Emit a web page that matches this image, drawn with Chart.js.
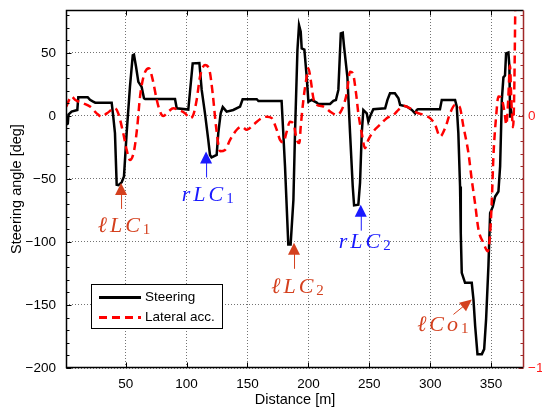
<!DOCTYPE html>
<html>
<head>
<meta charset="utf-8">
<script src="https://cdn.jsdelivr.net/npm/chart.js@4.4.0/dist/chart.umd.min.js"></script>
<style>html,body{margin:0;background:#fff}</style>
</head>
<body>
<canvas id="c" width="542" height="414"></canvas>
<script>
// steering angle [deg] vs distance [m]
const steerDist = [1,2.5,3,5.6,10.3,11.1,18.8,20.7,23.3,25,38.5,39.8,41.2,42.6,44,46.7,48.6,50.8,53.5,55.8,56.8,58.5,60.4,63.1,65,66,90.5,91.9,101.4,105,110.5,112.4,115.1,117.8,119.2,120.5,124.7,126,128,129.7,132.9,138.3,143.9,146,157.6,159,178,180.8,183.5,185.4,187.7,189,191,192.3,193.7,194.5,196.7,198.6,200,202.7,206.8,208,217.8,220.5,222.6,224.6,226.6,228.2,229.3,232,234.2,236.4,237.5,241,242.4,243.8,245.1,247.9,249.2,251.2,253.3,263,264.9,267,271,273.9,275.3,280.8,284.9,287.6,289,290,308,309.5,320.4,321.8,323.1,324.5,325.1,325.9,328.6,334.1,335.5,336.9,338.8,342.4,344.3,345.9,347.8,349.2,351.4,353.3,356,357.4,358.8,360.1,361.4,362.3,364.2,365,365.6,366.2,367];
const steerDeg = [-7,-6,1,3.4,4.7,14.8,14.8,12.7,11.3,10.5,10.5,-0.5,-13.7,-54.6,-55,-52.7,-48,-13.5,23,48,48.5,39,27,23,14,13.4,13.4,6,5,41.7,42,20.6,2,-19,-31,-33,-31,-13.7,2,7,3.4,4.7,7.4,13.2,13.2,11.8,11.8,-40,-102,-102,-66.5,-13.7,52,72,66.7,53.5,52.6,31,11.3,12.7,10.5,9.5,9.5,12,12.6,20.6,65.4,66,54.8,31,-13.7,-56,-71,-70.4,-53,-13.7,4.7,2,-4.5,1,5.3,6,12.7,18,18,14,8.7,7.4,4.7,2,4.7,5.3,5.3,12.7,12.7,7.4,-13.7,-56,-93,-124.5,-132.4,-132.4,-145.6,-166.7,-189,-189,-185,-161,-119,-77,-72,-64,-60,-40,12.7,30.6,32,49.6,50.3,39,-0.5,4.7,1];

// lateral acceleration (right axis) vs distance [m]
const accDist = [1.2,5.6,8.4,15.2,20.7,26.2,30.3,34.5,41.2,43.9,48,50.8,53.5,56.8,59.5,61.8,65,69.1,72.2,75.5,78.2,80.9,85,89.1,93.2,98.7,102.8,105.5,108.3,111,115.1,118.7,121.4,124.2,127.5,131.6,135.7,141.2,145.3,149.4,154.8,161.7,166,169.9,174,176.7,179.4,182.2,184.9,187.7,190.4,192.6,193.7,195.9,198.6,200,201.9,204.1,206.8,212.3,217.8,223.3,227.4,231.5,234.2,236.4,239.1,241,243.8,246.5,249.2,253.3,258.8,264.3,269.8,273.9,278,283.5,289,294.4,299.9,304,308.1,312.2,316.3,320.4,324,327.3,331.4,334.1,336.9,339.6,343.7,347.3,349.2,350.6,351.9,354.1,356,358.5,361,362.5,364,365.5,366.5,368,369,370];
const accVal = [0.037,0.077,0.064,0.05,0.037,0.01,-0.003,0.01,0.03,0.01,-0.069,-0.135,-0.175,-0.14,-0.043,0.077,0.162,0.189,0.143,0.064,0.017,0,0.017,0.03,0.024,0.01,-0.009,0.004,0.064,0.155,0.202,0.182,0.09,-0.043,-0.14,-0.135,-0.095,-0.055,-0.043,-0.055,-0.035,-0.009,-0.003,-0.009,-0.055,-0.095,-0.105,-0.062,-0.023,-0.03,-0.095,-0.108,-0.043,0.064,0.155,0.189,0.143,0.07,0.044,0.037,0.017,0.004,0.024,0.09,0.175,0.17,0.09,0.01,-0.069,-0.128,-0.095,-0.062,-0.035,-0.009,0.004,0.024,0.04,0.03,0.013,0.004,-0.009,-0.035,-0.082,-0.049,0.01,0.044,0.037,-0.043,-0.148,-0.253,-0.35,-0.45,-0.504,-0.537,-0.465,-0.333,-0.16,-0.003,0.077,0.07,0.015,-0.035,0.06,0.2,0.075,-0.045,0.1,0.5];

const distTicks = [50,100,150,200,250,300,350];
const steerTicks = [-200,-150,-100,-50,0,50];
const accTicks = [-1,0];
const seriesNames = ['Steering','Lateral acc.'];

const notes = [
  {main:'\u2113LC', sub:'1', color:'#d4401e', x:46.2, y:-53.2, lx:3, ly:49},
  {main:'rLC', sub:'1', color:'#1a1aff', x:116, y:-28.2, lx:1.6, ly:50},
  {main:'\u2113LC', sub:'2', color:'#d4401e', x:188.2, y:-100.7, lx:3.5, ly:50},
  {main:'rLC', sub:'2', color:'#1a1aff', x:243, y:-70.4, lx:4, ly:43},
  {main:'\u2113Co', sub:'1', color:'#d4401e', x:334.2, y:-145.6, lx:-29, ly:31.7, diag:true}
];

Chart.defaults.font.family = '"Liberation Sans", Arial, sans-serif';

const minus = v => String(v).replace('-', '\u2212');

function drawHead(ctx, tx, ty, ang, len, half) {
  ctx.beginPath();
  ctx.moveTo(tx, ty);
  ctx.lineTo(tx + Math.cos(ang) * len - Math.sin(ang) * half, ty + Math.sin(ang) * len + Math.cos(ang) * half);
  ctx.lineTo(tx + Math.cos(ang) * len + Math.sin(ang) * half, ty + Math.sin(ang) * len - Math.cos(ang) * half);
  ctx.closePath();
  ctx.fill();
}

const decor = {
  id: 'decor',
  afterDatasetsDraw(chart) {
    const {ctx, chartArea: a, scales} = chart;
    const {x, y, y1} = scales;
    const L = Math.round(a.left) + 0.5, R = Math.round(a.right) - 0.5;
    const T = Math.round(a.top) + 0.5, B = Math.round(a.bottom) - 0.5;
    ctx.save();

    // inside ticks
    ctx.lineWidth = 1;
    ctx.strokeStyle = '#000';
    ctx.beginPath();
    distTicks.forEach(v => {
      const px = Math.round(x.getPixelForValue(v)) + 0.5;
      ctx.moveTo(px, B); ctx.lineTo(px, B - 5);
      ctx.moveTo(px, T); ctx.lineTo(px, T + 5);
    });
    for (let v = -200; v <= 80; v += 10) {
      const py = Math.round(y.getPixelForValue(v)) + 0.5;
      const len = v % 50 === 0 ? 5 : 3;
      ctx.moveTo(L, py); ctx.lineTo(L + len, py);
    }
    ctx.stroke();
    ctx.strokeStyle = '#a02828';
    ctx.beginPath();
    for (let i = 0; i <= 28; i++) {
      const v = -1 + i * 0.05;
      const py = Math.round(y1.getPixelForValue(v)) + 0.5;
      const len = i % 20 === 0 ? 5 : 3;
      ctx.moveTo(R, py); ctx.lineTo(R - len, py);
    }
    ctx.stroke();

    // frame
    ctx.lineWidth = 1.5;
    ctx.strokeStyle = '#000';
    ctx.beginPath();
    ctx.moveTo(R, T); ctx.lineTo(L, T); ctx.lineTo(L, B); ctx.lineTo(R, B);
    ctx.stroke();
    ctx.strokeStyle = '#a02828';
    ctx.beginPath();
    ctx.moveTo(R, T); ctx.lineTo(R, B);
    ctx.stroke();

    // annotations
    const mainFont = 'italic 22px "Liberation Serif"', subFont = '15px "Liberation Serif"';
    notes.forEach(n => {
      const tx = x.getPixelForValue(n.x), ty = y.getPixelForValue(n.y);
      ctx.fillStyle = n.color;
      ctx.strokeStyle = n.color;
      ctx.lineWidth = 1;
      if (n.diag) {
        const ang = Math.atan2(15, -18.4);
        drawHead(ctx, tx, ty, ang, 12, 5.5);
        ctx.beginPath();
        ctx.moveTo(tx - 18.4, ty + 15);
        ctx.lineTo(tx + Math.cos(ang) * 11, ty + Math.sin(ang) * 11);
        ctx.stroke();
      } else {
        drawHead(ctx, tx, ty, Math.PI / 2, 12, 6);
        ctx.beginPath();
        ctx.moveTo(tx + 0.5, ty + 11);
        ctx.lineTo(tx + 0.5, ty + 26);
        ctx.stroke();
      }
      ctx.textBaseline = 'alphabetic';
      ctx.textAlign = 'left';
      ctx.font = mainFont;
      ctx.letterSpacing = '3px';
      const w1 = ctx.measureText(n.main).width;
      ctx.font = subFont;
      ctx.letterSpacing = '0px';
      const w2 = ctx.measureText(n.sub).width;
      const x0 = tx + n.lx - (w1 + w2) / 2;
      const by = ty + n.ly;
      ctx.font = mainFont;
      ctx.letterSpacing = '3px';
      ctx.fillText(n.main, x0, by);
      ctx.font = subFont;
      ctx.letterSpacing = '0px';
      ctx.fillText(n.sub, x0 + w1, by + 2);
    });

    // legend box
    const ds = chart.data.datasets;
    ctx.fillStyle = '#fff';
    ctx.fillRect(91, 284, 132, 45);
    ctx.strokeStyle = '#000';
    ctx.lineWidth = 1;
    ctx.strokeRect(91.5, 284.5, 131, 44);
    ctx.font = '13.5px "Liberation Sans"';
    ctx.textBaseline = 'middle';
    ctx.fillStyle = '#000';
    ds.forEach((d, i) => {
      const ly = 297.5 + i * 20;
      ctx.strokeStyle = d.borderColor;
      ctx.lineWidth = 3;
      ctx.setLineDash(d.borderDash || []);
      ctx.beginPath();
      ctx.moveTo(99, ly); ctx.lineTo(141, ly);
      ctx.stroke();
      ctx.setLineDash([]);
      ctx.fillText(d.label, 145, ly);
    });
    ctx.restore();
  }
};

const gridDots = {color: 'rgba(0,0,0,0.55)', lineWidth: 1, drawTicks: false};
const noPad = s => { s.paddingTop = 0; s.paddingBottom = 0; };

new Chart(document.getElementById('c'), {
  type: 'line',
  data: {
    datasets: [
      {
        label: seriesNames[0],
        data: steerDist.map((d, i) => ({x: d, y: steerDeg[i]})),
        yAxisID: 'y',
        borderColor: '#000',
        borderWidth: 2.5,
        pointRadius: 0,
        tension: 0,
        order: 1
      },
      {
        label: seriesNames[1],
        data: accDist.map((d, i) => ({x: d, y: accVal[i]})),
        yAxisID: 'y1',
        borderColor: '#ff0000',
        borderWidth: 2.5,
        borderDash: [8, 5],
        pointRadius: 0,
        cubicInterpolationMode: 'monotone',
        order: 0
      }
    ]
  },
  options: {
    responsive: false,
    animation: false,
    layout: {padding: {top: 10, left: 0, right: 0, bottom: 0}},
    plugins: {legend: {display: false}, tooltip: {enabled: false}},
    scales: {
      x: {
        type: 'linear',
        min: 1, max: 377,
        afterBuildTicks: s => { s.ticks = distTicks.map(v => ({value: v})); },
        afterFit: s => { s.height = 46; s.paddingLeft = 0; s.paddingRight = 0; },
        grid: gridDots,
        border: {display: false, dash: [1, 2]},
        ticks: {color: '#000', padding: 8, font: {size: 13.5}, maxRotation: 0},
        title: {display: true, text: 'Distance [m]', color: '#000', font: {size: 14.5}, padding: {top: 0, bottom: 5}}
      },
      y: {
        position: 'left',
        min: -200, max: 84,
        afterBuildTicks: s => { s.ticks = steerTicks.map(v => ({value: v})); },
        afterFit: s => { s.width = 66; noPad(s); },
        grid: gridDots,
        border: {display: false, dash: [1, 2]},
        ticks: {color: '#000', padding: 10, font: {size: 13.5}, callback: v => minus(v)},
        title: {display: true, text: 'Steering angle [deg]', color: '#000', font: {size: 14.5}, padding: {top: 8, bottom: 0}}
      },
      y1: {
        position: 'right',
        min: -1, max: 0.42,
        afterBuildTicks: s => { s.ticks = accTicks.map(v => ({value: v})); },
        afterFit: s => { s.width = 18; noPad(s); },
        grid: {display: false, drawTicks: false},
        border: {display: false},
        ticks: {color: '#ff1a1a', padding: 4, font: {size: 13.5}, callback: v => minus(v)}
      }
    }
  },
  plugins: [decor]
});
</script>
</body>
</html>
